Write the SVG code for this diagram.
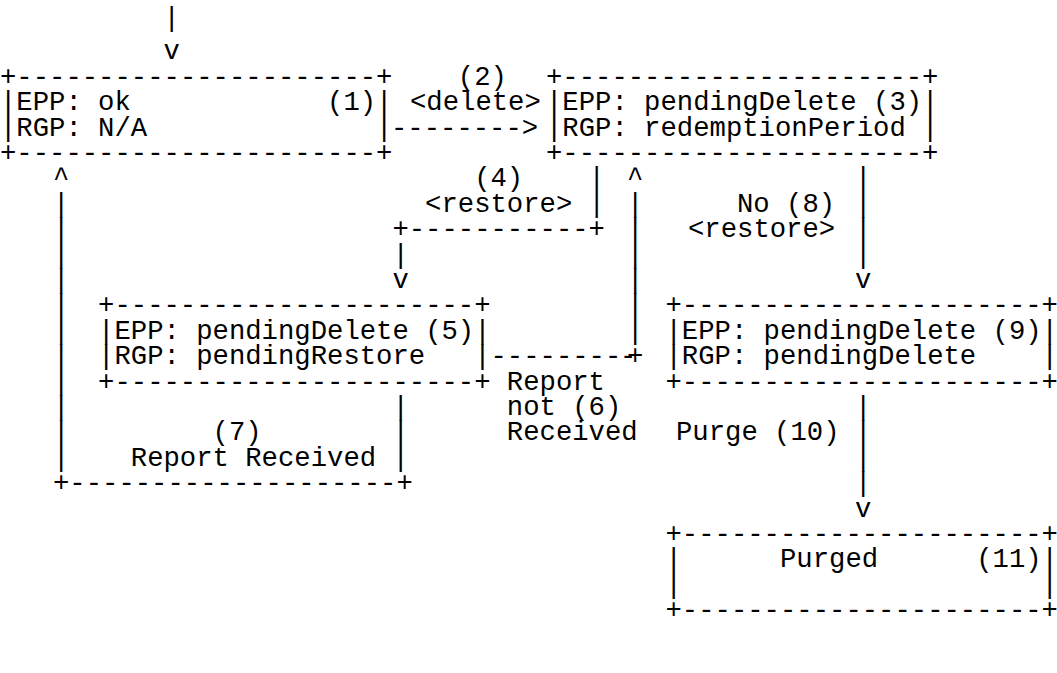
<svg xmlns="http://www.w3.org/2000/svg" width="1057" height="673" viewBox="0 0 1057 673" xml:space="preserve">
<style>
text { font-family: "Liberation Mono", "Courier New", monospace; font-size: 27.25px; fill: #000; white-space: pre; }
</style>
<rect width="1057" height="673" fill="#fff"/>
<g id="n1">
<text x="0" y="84.8">+----------------------+</text>
<text x="0" y="110.2">|EPP: ok            (1)|</text>
<text x="0" y="135.6">|RGP: N/A              |</text>
<text x="0" y="161">+----------------------+</text>
</g>
<g id="n3">
<text x="546" y="84.8">+----------------------+</text>
<text x="546" y="110.2">|EPP: pendingDelete (3)|</text>
<text x="546" y="135.6">|RGP: redemptionPeriod |</text>
<text x="546" y="161">+----------------------+</text>
</g>
<g id="n5">
<text x="98.1" y="313.4">+----------------------+</text>
<text x="98.1" y="338.8">|EPP: pendingDelete (5)|</text>
<text x="98.1" y="364.2">|RGP: pendingRestore   |</text>
<text x="98.1" y="389.6">+----------------------+</text>
</g>
<g id="n9">
<text x="665.5" y="313.4">+----------------------+</text>
<text x="665.5" y="338.8">|EPP: pendingDelete (9)|</text>
<text x="665.5" y="364.2">|RGP: pendingDelete    |</text>
<text x="665.5" y="389.6">+----------------------+</text>
</g>
<g id="n11">
<text x="665.5" y="542">+----------------------+</text>
<text x="665.5" y="567.4">|      Purged      (11)|</text>
<text x="665.5" y="592.8">|                      |</text>
<text x="665.5" y="618.2">+----------------------+</text>
</g>
<g id="connectors">
<g id="c-entry">
<text x="163.5" y="26">|</text>
<text x="163.5" y="59.4">v</text>
</g>
<g id="c-delete">
<text x="457.8" y="84.8">(2)</text>
<text x="410" y="110.2">&lt;delete&gt;</text>
<text x="391" y="135.6">--------&gt;</text>
</g>
<g id="c-restore">
<text x="474.15" y="186.4">(4)</text>
<text x="588.6" y="186.4">|</text>
<text x="425.1" y="211.8">&lt;restore&gt; |</text>
<text x="392.4" y="237.2">+-----------+</text>
<text x="392.4" y="262.6">|</text>
<text x="392.4" y="288">v</text>
</g>
<g id="c-notreceived">
<text x="627" y="186.4">^</text>
<text x="627" y="211.8">|</text>
<text x="627" y="237.2">|</text>
<text x="627" y="262.6">|</text>
<text x="627" y="288">|</text>
<text x="627" y="313.4">|</text>
<text x="627" y="338.8">|</text>
<text x="490.5" y="364.2">--------</text>
<text x="620" y="364.2">-</text>
<text x="627" y="364.2">+</text>
<text x="506.85" y="389.6">Report</text>
<text x="506.85" y="415">not (6)</text>
<text x="506.85" y="440.4">Received</text>
</g>
<g id="c-received">
<text x="53" y="186.4">^</text>
<text x="53" y="211.8">|</text>
<text x="53" y="237.2">|</text>
<text x="53" y="262.6">|</text>
<text x="53" y="288">|</text>
<text x="53" y="313.4">|</text>
<text x="53" y="338.8">|</text>
<text x="53" y="364.2">|</text>
<text x="53" y="389.6">|</text>
<text x="53" y="415">|</text>
<text x="53" y="440.4">|</text>
<text x="53" y="465.8">|</text>
<text x="392.4" y="415">|</text>
<text x="212.55" y="440.4">(7)</text>
<text x="392.4" y="440.4">|</text>
<text x="130.8" y="465.8">Report Received |</text>
<text x="53" y="491.2">+--------------------+</text>
</g>
<g id="c-norestore">
<text x="855" y="186.4">|</text>
<text x="737" y="211.8">No (8)</text>
<text x="855" y="211.8">|</text>
<text x="688" y="237.2">&lt;restore&gt;</text>
<text x="855" y="237.2">|</text>
<text x="855" y="262.6">|</text>
<text x="855" y="288">v</text>
</g>
<g id="c-purge">
<text x="855" y="415">|</text>
<text x="676" y="440.4">Purge (10)</text>
<text x="855" y="440.4">|</text>
<text x="855" y="465.8">|</text>
<text x="855" y="491.2">|</text>
<text x="855" y="516.6">v</text>
</g>
</g>
</svg>
